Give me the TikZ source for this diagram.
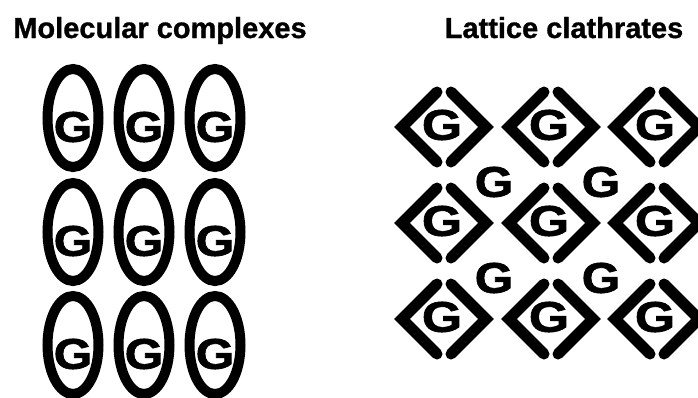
\documentclass[tikz,border=0pt]{standalone}
\usepackage{fontspec}
\setmainfont{Liberation Sans}
\newfontfamily\titlefont[FakeBold=1]{Liberation Sans Bold}
\newfontfamily\guestfont[FakeBold=1.5]{Liberation Sans Bold}
\usepackage{graphicx}
\usetikzlibrary{positioning}

\begin{document}
\begin{tikzpicture}[
  x=1pt, y=-1pt,
  title/.style={font=\titlefont\fontsize{29}{29}\selectfont, inner sep=0pt, anchor=base},
  guest/.style={font=\guestfont\fontsize{43}{43}\selectfont, inner sep=0pt},
  shell/.style={draw, line width=10pt},
  cage/.style={draw, line width=11pt, line cap=round, line join=miter}
]
\useasboundingbox (0,0) rectangle (698,397);
\clip (0,0) rectangle (698,397);
\node[title] (mol) at (160,38) {Molecular complexes};
\node[title] (lat) at (564,38) {Lattice clathrates};
% molecular complexes: one guest per host shell
\foreach \cx [count=\i] in {73,144,215}
  \foreach \cy [count=\j] in {118,232,345} {
    \draw[shell] (\cx,\cy) ellipse [x radius=25.5pt, y radius=49pt];
    \node[guest] (mg\i\j) at (\cx,\cy+9) {\scalebox{1.15}[1]{G}};
  }
% lattice clathrates: guests in cages and between them
\foreach \cx [count=\i] in {444,551,657}
  \foreach \cy [count=\j] in {127,223,319} {
    \draw[cage] (\cx-7,\cy-35) -- (\cx-42,\cy) -- (\cx-7,\cy+35);
    \draw[cage] (\cx+7,\cy-35) -- (\cx+42,\cy) -- (\cx+7,\cy+35);
    \node[guest] (cg\i\j) at (\cx-2,\cy-2) {\scalebox{1.2}[1]{G}};
  }
\foreach \cx [count=\i] in {494,601}
  \foreach \cy [count=\j] in {182,278}
    \node[guest] (ig\i\j) at (\cx,\cy) {\scalebox{1.15}[1]{G}};
\end{tikzpicture}
\end{document}
